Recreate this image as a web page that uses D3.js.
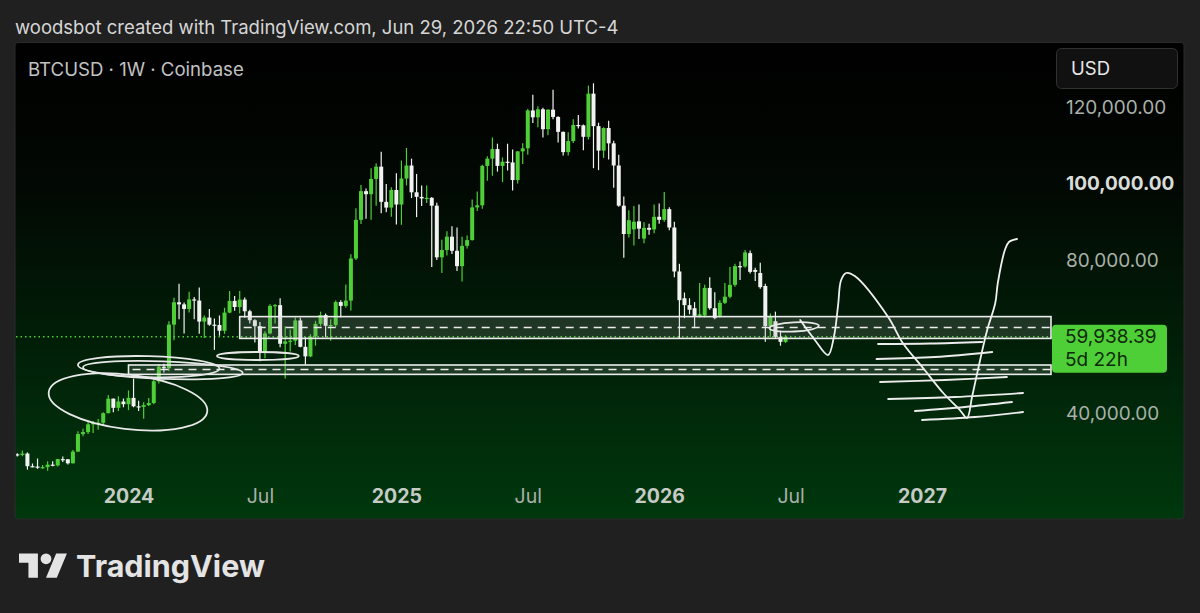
<!DOCTYPE html>
<html>
<head>
<meta charset="utf-8">
<script src="https://cdn.jsdelivr.net/npm/d3@7"></script>
<style>
  html, body { margin: 0; padding: 0; background: #202020; }
  svg { display: block; }
</style>
</head>
<body>
<svg id="grafico"></svg>
<script>
// ---------------- dados (candles semanais BTCUSD, Coinbase) ----------------
const primeiraSemana = new Date(2023, 6, 31);
const ultimaSemana = new Date(2026, 5, 29);

const aberturas = [
  29200, 29050, 29400, 26100, 26000, 25800, 25850, 26500, 26300, 27950, 27900, 26850, 29900, 34500, 35000, 37050, 37400, 37450, 39950, 43750, 41350, 43000,
  42300, 43950, 41750, 41600, 42050, 42600, 48300, 52100, 51700, 63100, 68950, 68400, 67200, 69700, 69400, 63900, 64950, 63100, 63000, 61500, 66250, 69300, 67700, 69650, 66600, 64250,
  62700, 55850, 60800, 68000, 68200, 58100, 58700, 58900, 64200, 57300, 54800, 60000, 63300, 65600, 62800, 63000, 69000, 68000, 69400, 80400, 90500, 98000, 97200, 101200, 104400, 95200, 93700,
  98300, 94500, 101300, 104700, 97700, 96500, 96100, 96250, 94200, 80700, 82600, 86100, 82400, 78400, 83700, 85200, 93750, 94300, 104600, 106500, 109000, 104600, 105700, 105500, 100900, 108400,
  109200, 119100, 117300, 119400, 114200, 119300, 117400, 113500, 108200, 111100, 115300, 115200, 112200, 123500, 115000, 108600, 114500, 110500, 104700, 94200, 86800, 88000, 90100, 85600, 88400, 88000,
  91300, 90500, 93300, 88500, 77000, 70000, 68200, 67400, 65400, 65500, 72700, 67400, 65400, 68800, 70400, 73500, 78400, 78300, 81800, 77400, 76600, 73200, 62700, 64000, 59900, 58600
];
const maximas = [
  29500, 30200, 29700, 26800, 28100, 26400, 27400, 27400, 28000, 28600, 28000, 30300, 35200, 35900, 38000, 37900, 38400, 40200, 44700, 43800, 44400, 43800,
  45900, 49000, 43200, 42800, 43900, 48600, 52800, 52900, 64000, 70100, 73800, 68900, 71700, 70300, 72800, 65500, 67200, 64700, 65500, 67500, 71900, 70600, 71900, 70200, 67000, 64500,
  63800, 61400, 68400, 68500, 70000, 62700, 61800, 65000, 64900, 59800, 60600, 64100, 66500, 66000, 64500, 69400, 69500, 73600, 81500, 93500, 99600, 98700, 104000, 105300, 108300, 99900, 99000,
  102700, 106000, 109300, 106500, 102500, 99500, 99500, 96500, 95000, 85300, 87500, 88800, 88500, 86100, 86400, 95800, 97900, 104900, 107100, 112000, 110400, 106800, 110400, 108900, 108500, 110500,
  119500, 123200, 120200, 119800, 119400, 124500, 117600, 113600, 113400, 116800, 117900, 115400, 125600, 126200, 115900, 114700, 116400, 111200, 107500, 96600, 93000, 94100, 94500, 89900, 89500, 94500,
  94800, 97800, 93800, 90000, 79000, 71500, 70000, 69000, 74000, 73500, 75500, 71600, 69500, 74000, 78200, 79000, 79600, 82600, 82500, 78000, 79300, 73800, 66000, 66500, 61500, 60400
];
const minimas = [
  28600, 28700, 25200, 25800, 25400, 25400, 24900, 26100, 26000, 27200, 26550, 26800, 29900, 33900, 34500, 34800, 35600, 36800, 39950, 40200, 40500, 41500,
  40750, 41500, 40500, 38500, 41800, 42300, 47700, 50600, 50900, 59000, 64500, 60800, 66300, 64500, 60700, 59600, 62800, 56500, 60200, 60700, 66100, 66700, 66000, 64900, 63400, 58400,
  53500, 54300, 60600, 63400, 57200, 49000, 56100, 57800, 57200, 52600, 54600, 57600, 62700, 59800, 58900, 62500, 65000, 67500, 66800, 80000, 89400, 90800, 90500, 94200, 92200, 92500, 91300,
  89300, 89200, 99500, 96200, 91200, 94100, 94900, 78200, 80000, 76600, 81200, 81600, 77100, 74400, 83000, 85100, 92800, 93400, 100700, 102000, 103100, 100400, 103400, 98200, 100000, 105100,
  107500, 115800, 114700, 112000, 112600, 116800, 110700, 107300, 107300, 110600, 114400, 108700, 111500, 104000, 103500, 106700, 106300, 98900, 93900, 80600, 85900, 83800, 85500, 84400, 86600, 87000,
  89500, 90000, 87800, 75500, 59600, 64800, 65800, 62500, 65000, 65000, 67000, 64500, 65000, 68500, 70000, 73000, 74800, 78000, 76500, 74500, 72500, 58600, 59900, 59500, 57600, 58300
];
const fechamentos = [
  29050, 29400, 26100, 26000, 25800, 25850, 26500, 26300, 27950, 27900, 26850, 29900, 34500, 35000, 37050, 37400, 37450, 39950, 43750, 41350, 43000, 42300,
  43950, 41750, 41600, 42050, 42600, 48300, 52100, 51700, 63100, 68950, 68400, 67200, 69700, 69400, 63900, 64950, 63100, 63000, 61500, 66250, 69300, 67700, 69650, 66600, 64250, 62700,
  55850, 60800, 68000, 68200, 58100, 58700, 58900, 64200, 57300, 54800, 60000, 63300, 65600, 62800, 63000, 69000, 68000, 69400, 80400, 90500, 98000, 97200, 101200, 104400, 95200, 93700, 98300,
  94500, 101300, 104700, 97700, 96500, 96100, 96250, 94200, 80700, 82600, 86100, 82400, 78400, 83700, 85200, 93750, 94300, 104600, 106500, 109000, 104600, 105700, 105500, 100900, 108400, 109200,
  119100, 117300, 119400, 114200, 119300, 117400, 113500, 108200, 111100, 115300, 115200, 112200, 123500, 115000, 108600, 114500, 110500, 104700, 94200, 86800, 90400, 90000, 88200, 88400, 87900, 91300,
  90500, 93300, 88500, 77000, 69500, 68200, 67000, 65400, 65800, 72700, 67400, 64800, 68800, 70400, 73500, 78400, 78100, 82000, 76900, 76900, 72900, 62700, 65200, 59900, 58600, 59938.39
];

// rótulos dos eixos
const marcasTempo = ['2024-01-01', '2024-07-01', '2025-01-06', '2025-07-07', '2026-01-05', '2026-07-06', '2027-01-04'];
const rotulosTempo = ['2024', 'Jul', '2025', 'Jul', '2026', 'Jul', '2027'];
const marcasPreco = [40000, 80000, 100000, 120000];
const precoDestaque = 100000;
const precoAtual = 59938.39;
const tempoRestante = '5d 22h';

// desenhos feitos à mão (índice da semana, preço)
const zonas = [
  { semana: 44, topo: 65200, meio: 62350, base: 59500 },
  { semana: 22, topo: 52550, meio: 51370, base: 50100 }
];
const elipses = [
  { semana: 21.9, preco: 42900, raioSemanas: 15.8, raioPreco: 7100, giro: 7 },
  { semana: 26.0, preco: 52100, raioSemanas: 14.0, raioPreco: 2750, giro: 1.5 },
  { semana: 28.8, preco: 51200, raioSemanas: 15.8, raioPreco: 2300, giro: 2 },
  { semana: 47.6, preco: 54900, raioSemanas: 8.1, raioPreco: 1050, giro: 0 },
  { semana: 153.7, preco: 62500, raioSemanas: 4.9, raioPreco: 1200, giro: -3 }
];
const cenario = [
  [154.9, 64300], [157.8, 59100], [160.4, 55160], [161.6, 60130], [162.4, 68230], [163.0, 74770],
  [164.0, 76600], [165.7, 75800], [172.3, 65100], [175.2, 58300], [179.2, 51770], [183.2, 45230],
  [186.5, 40780], [187.9, 38690], [188.9, 44180], [190.5, 53860], [191.9, 61700], [193.5, 68760],
  [194.0, 73990], [195.4, 82610], [196.2, 84710], [197.8, 85490]
];
const riscos = [
  [[170.3, 58040], [180.6, 58170], [190.9, 58560]],
  [[170.0, 54120], [181.6, 54640], [192.9, 55950]],
  [[170.7, 48100], [183.5, 48630], [195.8, 49410]],
  [[172.3, 43660], [185.5, 44180], [199.0, 45230]],
  [[177.6, 40520], [187.5, 41570], [196.8, 42880]],
  [[179.0, 38170], [189.5, 38950], [199.0, 40260]]
];

// ---------------- montagem ----------------
const fonte = 'Inter, "Noto Sans", sans-serif';
const corAlta = '#4fcf37';
const corBaixa = '#f2f2f2';

const svg = d3.select('#grafico').attr('width', 1200).attr('height', 613);
const defs = svg.append('defs');

const gradiente = defs.append('linearGradient').attr('id', 'fundo')
    .attr('x1', 0).attr('y1', 0).attr('x2', 0).attr('y2', 1);
gradiente.append('stop').attr('offset', '0%').attr('stop-color', '#000000');
gradiente.append('stop').attr('offset', '30%').attr('stop-color', '#020803');
gradiente.append('stop').attr('offset', '100%').attr('stop-color', '#00380d');

defs.append('clipPath').attr('id', 'recorte')
  .append('rect').attr('x', 16).attr('y', 43).attr('width', 1036).attr('height', 476);

// painel do gráfico
svg.append('rect')
    .attr('x', 15).attr('y', 42.5).attr('width', 1169).attr('height', 476.5)
    .attr('rx', 3)
    .attr('fill', 'url(#fundo)')
    .attr('stroke', '#2b2b2b');

// cabeçalho
svg.append('text')
    .attr('x', 15).attr('y', 34)
    .attr('fill', '#d6d6d6')
    .style('font', `18.5px ${fonte}`)
    .text('woodsbot created with TradingView.com, Jun 29, 2026 22:50 UTC-4');

svg.append('text')
    .attr('x', 28).attr('y', 76)
    .attr('fill', '#c2c2c2')
    .style('font', `18.6px ${fonte}`)
    .text('BTCUSD · 1W · Coinbase');

// escalas
const x = d3.scaleTime().domain([new Date(2024, 0, 1), new Date(2027, 0, 4)]).range([128.5, 922]);
const y = d3.scaleLinear().domain([40000, 120000]).range([413, 107]);
const semanas = d3.timeMonday.range(primeiraSemana, d3.timeDay.offset(ultimaSemana, 1));
const dataDaSemana = i => new Date(+primeiraSemana + i * 7 * 864e5);
const xs = i => x(dataDaSemana(i));

const dados = semanas.map((d, i) => ({
  data: d, abertura: aberturas[i], maxima: maximas[i], minima: minimas[i], fechamento: fechamentos[i]
}));

const plotagem = svg.append('g').attr('clip-path', 'url(#recorte)');

// eixo X (anos em negrito)
const eixoX = d3.axisBottom(x)
    .tickValues(marcasTempo.map(d => d3.timeParse('%Y-%m-%d')(d)))
    .tickFormat((d, i) => rotulosTempo[i])
    .tickSize(0).tickPadding(0);
const gX = svg.append('g').attr('transform', 'translate(0, 489)').call(eixoX);
gX.select('.domain').remove();
gX.selectAll('text')
    .style('font-family', fonte).style('font-size', '19.5px')
    .style('font-weight', (d, i) => rotulosTempo[i] === 'Jul' ? 400 : 700)
    .attr('fill', (d, i) => rotulosTempo[i] === 'Jul' ? '#a9aea9' : '#c6cbc6');

// eixo Y (escala de preços à direita)
const eixoY = d3.axisRight(y).tickValues(marcasPreco).tickFormat(d3.format(',.2f')).tickSize(0).tickPadding(0);
const gY = svg.append('g').attr('transform', 'translate(1066, 0)').call(eixoY);
gY.select('.domain').remove();
gY.selectAll('text')
    .style('font-family', fonte).style('font-size', '19px')
    .style('font-weight', d => d === precoDestaque ? 700 : 400)
    .attr('fill', d => d === precoDestaque ? '#d9ddd9' : '#a9b0a9');

// linha pontilhada do preço atual
plotagem.append('line')
    .attr('x1', 16).attr('x2', 1052)
    .attr('y1', y(precoAtual)).attr('y2', y(precoAtual))
    .attr('stroke', corAlta).attr('stroke-width', 1.3)
    .attr('stroke-dasharray', '1.5,3');

// candles
const largura = 4;
const candles = plotagem.selectAll('.candle').data(dados).enter().append('g').classed('candle', true);
candles.append('line')
    .attr('x1', d => x(d.data)).attr('x2', d => x(d.data))
    .attr('y1', d => y(d.maxima)).attr('y2', d => y(d.minima))
    .attr('stroke', d => d.fechamento >= d.abertura ? corAlta : corBaixa)
    .attr('stroke-width', 1.2);
candles.append('rect')
    .attr('x', d => x(d.data) - largura / 2)
    .attr('width', largura)
    .attr('y', d => y(Math.max(d.abertura, d.fechamento)))
    .attr('height', d => Math.max(1.2, Math.abs(y(d.abertura) - y(d.fechamento))))
    .attr('fill', d => d.fechamento >= d.abertura ? corAlta : corBaixa);

// zonas retangulares
const desenhos = plotagem.append('g');
zonas.forEach(z => {
  desenhos.append('rect')
      .attr('x', xs(z.semana)).attr('y', y(z.topo))
      .attr('width', 1051 - xs(z.semana)).attr('height', y(z.base) - y(z.topo))
      .attr('fill', 'rgba(150,160,150,0.2)')
      .attr('stroke', '#ececec').attr('stroke-width', 1.6);
  desenhos.append('line')
      .attr('x1', xs(z.semana) + 4).attr('x2', 1051)
      .attr('y1', y(z.meio)).attr('y2', y(z.meio))
      .attr('stroke', '#ececec').attr('stroke-width', 1.6)
      .attr('stroke-dasharray', '8,6');
});

// elipses
elipses.forEach(e => {
  const cx = xs(e.semana);
  const cy = y(e.preco);
  desenhos.append('ellipse')
      .attr('cx', cx).attr('cy', cy)
      .attr('rx', xs(e.semana + e.raioSemanas) - cx)
      .attr('ry', y(e.preco - e.raioPreco) - cy)
      .attr('transform', `rotate(${e.giro}, ${cx}, ${cy})`)
      .attr('fill', 'none').attr('stroke', '#e8e8e8').attr('stroke-width', 1.8);
});

// traço do cenário e riscos
const linha = d3.line().x(p => xs(p[0])).y(p => y(p[1])).curve(d3.curveCatmullRom.alpha(0.5));
desenhos.append('path')
    .attr('d', linha(cenario))
    .attr('fill', 'none').attr('stroke', '#f0f0f0').attr('stroke-width', 1.8)
    .attr('stroke-linecap', 'round').attr('stroke-linejoin', 'round');
riscos.forEach(r => {
  desenhos.append('path')
      .attr('d', linha(r))
      .attr('fill', 'none').attr('stroke', '#ececec').attr('stroke-width', 1.8)
      .attr('stroke-linecap', 'round');
});

// etiqueta do preço atual
const yAtual = y(precoAtual);
svg.append('rect')
    .attr('x', 1052).attr('y', yAtual - 12).attr('width', 115).attr('height', 48)
    .attr('rx', 4).attr('fill', corAlta);
svg.append('text')
    .attr('x', 1065).attr('y', yAtual + 6.5)
    .attr('fill', '#0d2a08')
    .style('font', `19px ${fonte}`)
    .text(d3.format(',.2f')(precoAtual));
svg.append('text')
    .attr('x', 1065).attr('y', yAtual + 29)
    .attr('fill', '#0d2a08')
    .style('font', `19px ${fonte}`)
    .text(tempoRestante);

// botão da moeda
svg.append('rect')
    .attr('x', 1056.5).attr('y', 48.5).attr('width', 121).attr('height', 40)
    .attr('rx', 5).attr('fill', '#111111').attr('stroke', '#313131');
svg.append('text')
    .attr('x', 1071).attr('y', 75)
    .attr('fill', '#e8e8e8')
    .style('font', `18.5px ${fonte}`)
    .text('USD');

// logotipo TradingView
const logo = svg.append('g').attr('transform', 'translate(19, 548) scale(1.35)').attr('fill', '#e4e4e4');
logo.append('path').attr('d', 'M14 22H7V11H0V4h14v18zM28 22h-8l7.5-18h8L28 22z');
logo.append('circle').attr('cx', 20).attr('cy', 8).attr('r', 4);
svg.append('text')
    .attr('x', 76).attr('y', 577)
    .attr('fill', '#e4e4e4')
    .style('font', `700 30.5px ${fonte}`)
    .text('TradingView');
</script>
</body>
</html>
